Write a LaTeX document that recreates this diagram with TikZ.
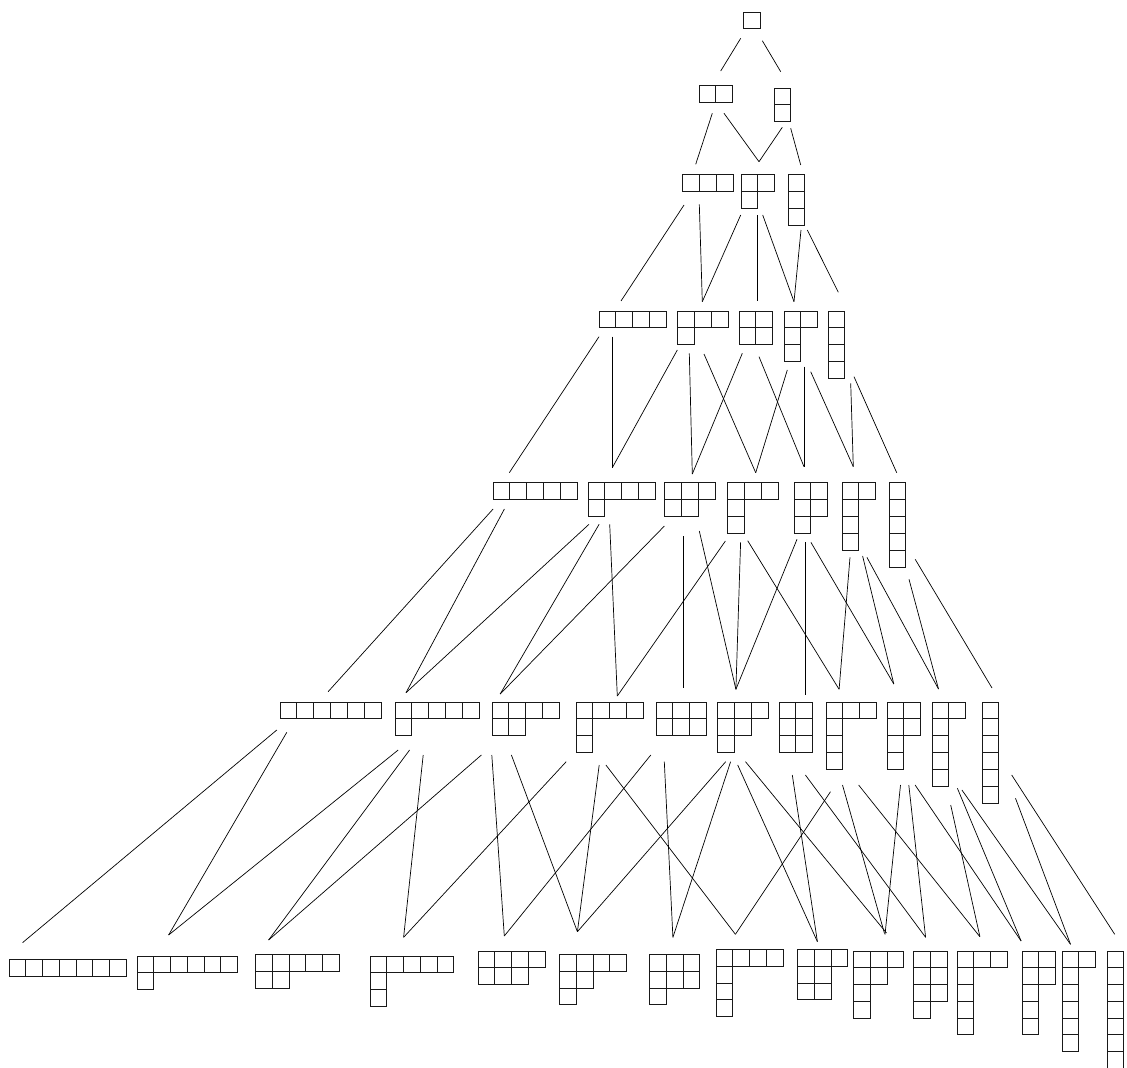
\documentclass[tikz,border=0pt]{standalone}
\begin{document}
\begin{tikzpicture}[x=1pt,y=-1pt,
  ynode/.style={draw=none,inner sep=0pt,outer sep=0pt},
  ybox/.style={draw=black!90,line width=0.9pt},
  edge/.style={draw=black,line width=0.7pt}]
\def\bs{16.9}
\newcommand\yd[6]{%
  \node[ynode,anchor=north west,minimum width=#4*\bs pt,minimum height=#5*\bs pt] (#1) at (#2,#3) {};
  \foreach \r [count=\i from 0] in {#6} {
    \foreach \j in {1,...,\r} {
      \draw[ybox] ([shift={({(\j-1)*\bs},{\i*\bs})}]#1.north west) rectangle ++(\bs,\bs);
    }
  }
}
\newcommand\conn[6]{\draw[edge] ([shift={(#2,#3)}]#1.north west) -- ([shift={(#5,#6)}]#4.north west);}
\useasboundingbox (0,0) rectangle (1127,1068);
% level 1
\yd{p1}{743.5}{12}{1}{1}{1}
% level 2
\yd{p2}{699}{85.5}{2}{1}{2}
\yd{p11}{774}{88}{1}{2}{1,1}
% level 3
\yd{p3}{682.5}{174.5}{3}{1}{3}
\yd{p21}{741}{174.5}{2}{2}{2,1}
\yd{p111}{788}{174.5}{1}{3}{1,1,1}
% level 4
\yd{p4}{599}{311}{4}{1}{4}
\yd{p31}{677.5}{311}{3}{2}{3,1}
\yd{p22}{739}{311}{2}{2}{2,2}
\yd{p211}{784}{311}{2}{3}{2,1,1}
\yd{p1111}{828}{311}{1}{4}{1,1,1,1}
% level 5
\yd{p5}{493}{482.5}{5}{1}{5}
\yd{p41}{588}{482.5}{4}{2}{4,1}
\yd{p32}{664.5}{482.5}{3}{2}{3,2}
\yd{p311}{727.5}{482.5}{3}{3}{3,1,1}
\yd{p221}{794}{482.5}{2}{3}{2,2,1}
\yd{p2111}{842}{482.5}{2}{4}{2,1,1,1}
\yd{p11111}{889}{482.5}{1}{5}{1,1,1,1,1}
% level 6
\yd{p6}{280}{702}{6}{1}{6}
\yd{p51}{395}{702}{5}{2}{5,1}
\yd{p42}{492}{702}{4}{2}{4,2}
\yd{p411}{576}{702}{4}{3}{4,1,1}
\yd{p33}{656}{702}{3}{2}{3,3}
\yd{p321}{717.5}{702}{3}{3}{3,2,1}
\yd{p222}{779}{702}{2}{3}{2,2,2}
\yd{p3111}{826}{702}{3}{4}{3,1,1,1}
\yd{p2211}{887}{702}{2}{4}{2,2,1,1}
\yd{p21111}{932}{702}{2}{5}{2,1,1,1,1}
\yd{p111111}{982}{702}{1}{6}{1,1,1,1,1,1}
% level 7
\def\bs{16.75}
\yd{p7}{9}{959.5}{7}{1}{7}
\yd{p61}{137}{956}{6}{2}{6,1}
\yd{p52}{255.5}{954.5}{5}{2}{5,2}
\yd{p511}{370}{956}{5}{3}{5,1,1}
\yd{p43}{478}{951}{4}{2}{4,3}
\yd{p421}{559.5}{954.5}{4}{3}{4,2,1}
\yd{p331}{649.5}{954.5}{3}{3}{3,3,1}
\yd{p4111}{716}{949.5}{4}{4}{4,1,1,1}
\yd{p322}{797.5}{949.5}{3}{3}{3,2,2}
\yd{p3211}{853.5}{951}{3}{4}{3,2,1,1}
\yd{p2221}{913.5}{951}{2}{4}{2,2,2,1}
\yd{p31111}{957}{951}{3}{5}{3,1,1,1,1}
\yd{p22111}{1022}{951}{2}{5}{2,2,1,1,1}
\yd{p211111}{1062}{951}{2}{6}{2,1,1,1,1,1}
\yd{p1111111}{1107}{951}{1}{7}{1,1,1,1,1,1,1}
% edges 1-2
\conn{p1}{-2.8}{26.3}{p2}{21.7}{-14.5}
\conn{p1}{18.8}{28.7}{p11}{6.7}{-16.3}
% edges 2-3
\conn{p2}{13.3}{27.8}{p3}{13.2}{-10.2}
\conn{p2}{25}{27.8}{p21}{18}{-12.8}
\conn{p11}{8.3}{39.3}{p21}{18}{-12.8}
\conn{p11}{16.7}{40.3}{p111}{12.7}{-9.5}
% edges 3-4
\conn{p3}{1.5}{30.5}{p4}{22}{-10}
\conn{p3}{16.8}{29.8}{p31}{24.8}{-9.3}
\conn{p21}{-0.3}{40.5}{p31}{24.8}{-9.3}
\conn{p21}{16.3}{40.5}{p22}{18.3}{-10.3}
\conn{p21}{21.7}{40.5}{p211}{10}{-9.3}
\conn{p111}{13}{55.5}{p211}{10}{-9.3}
\conn{p111}{19.3}{55.5}{p1111}{10.3}{-18.7}
% edges 4-5
\conn{p4}{0}{25.7}{p5}{16.3}{-9.8}
\conn{p4}{13.3}{25.7}{p41}{24.3}{-14.8}
\conn{p31}{-0.2}{39}{p41}{24.3}{-14.8}
\conn{p31}{11.8}{42.3}{p32}{27.8}{-8.5}
\conn{p31}{26.5}{43}{p311}{28.2}{-9.8}
\conn{p22}{3.3}{42.3}{p32}{27.8}{-8.5}
\conn{p22}{20}{45.7}{p221}{10}{-15.8}
\conn{p211}{3.3}{59}{p311}{28.2}{-9.8}
\conn{p211}{20}{55.7}{p221}{10}{-15.8}
\conn{p211}{26.7}{60.7}{p2111}{11.3}{-15.8}
\conn{p1111}{22.7}{72.3}{p2111}{11.3}{-15.8}
\conn{p1111}{26}{65.7}{p11111}{7.7}{-9.8}
% edges 5-6
\conn{p5}{0.1}{26.5}{p6}{48.1}{-10.3}
\conn{p5}{11.4}{26.5}{p51}{11}{-9.3}
\conn{p41}{1}{41.8}{p51}{11}{-9.3}
\conn{p41}{11.1}{41.8}{p42}{8.2}{-8}
\conn{p41}{21.7}{41.8}{p411}{41.3}{-6}
\conn{p32}{-0.1}{43.5}{p42}{8.2}{-8}
\conn{p32}{19.3}{53.5}{p33}{27.8}{-13.7}
\conn{p32}{34.8}{48.5}{p321}{18.4}{-12.7}
\conn{p311}{-2.1}{58.5}{p411}{41.3}{-6}
\conn{p311}{13.1}{59.8}{p321}{18.4}{-12.7}
\conn{p311}{20.2}{58.2}{p3111}{13.1}{-12.7}
\conn{p221}{3}{56.8}{p321}{18.4}{-12.7}
\conn{p221}{11.4}{59.8}{p222}{26.4}{-7}
\conn{p221}{16.9}{59.8}{p2211}{6.8}{-18}
\conn{p2111}{8}{74.8}{p3111}{13.1}{-12.7}
\conn{p2111}{20.6}{73.5}{p2211}{6.8}{-18}
\conn{p2111}{24.9}{74.8}{p21111}{6.5}{-13}
\conn{p11111}{20}{96.8}{p21111}{6.5}{-13}
\conn{p11111}{26.2}{76.8}{p111111}{10}{-14}
% edges 6-7
\conn{p6}{-3.2}{28}{p7}{13.5}{-16.8}
\conn{p6}{6.8}{30.3}{p61}{31.6}{-21}
\conn{p51}{3.2}{48}{p61}{31.6}{-21}
\conn{p51}{14.6}{48}{p52}{13.1}{-14.5}
\conn{p51}{28.2}{53}{p511}{33.6}{-18.7}
\conn{p42}{-10.6}{53}{p52}{13.1}{-14.5}
\conn{p42}{-0.2}{53}{p43}{26.3}{-15}
\conn{p42}{19.4}{53}{p421}{17.9}{-22.8}
\conn{p411}{-9.8}{59.7}{p511}{33.6}{-18.7}
\conn{p411}{23.2}{63}{p421}{17.9}{-22.8}
\conn{p411}{29.9}{63}{p4111}{19.4}{-15.2}
\conn{p33}{-5.2}{53}{p43}{26.3}{-15}
\conn{p33}{8.3}{59.7}{p331}{23.4}{-17.2}
\conn{p321}{8.2}{59.7}{p421}{17.9}{-22.8}
\conn{p321}{13.1}{59.7}{p331}{23.4}{-17.2}
\conn{p321}{20.2}{63}{p322}{19.9}{-7.8}
\conn{p321}{28}{59.7}{p3211}{33}{-18}
\conn{p222}{13.3}{73}{p322}{19.9}{-7.8}
\conn{p222}{26.4}{73}{p2221}{12.1}{-13.7}
\conn{p3111}{4.5}{89.7}{p4111}{19.4}{-15.2}
\conn{p3111}{16.5}{83}{p3211}{31}{-17.5}
\conn{p3111}{32.6}{83}{p31111}{22.9}{-14.3}
\conn{p2211}{13.5}{83}{p3211}{31.5}{-16.5}
\conn{p2211}{21.8}{83}{p2221}{12.1}{-13.7}
\conn{p2211}{28.1}{83}{p22111}{-0.9}{-10}
\conn{p21111}{18.7}{103}{p31111}{22.9}{-14.3}
\conn{p21111}{25.4}{86.3}{p22111}{-0.9}{-10}
\conn{p21111}{29.9}{88}{p211111}{8.5}{-6.7}
\conn{p111111}{33.5}{96.3}{p211111}{8.5}{-6.7}
\conn{p111111}{29.7}{73}{p1111111}{7.7}{-16.7}
\end{tikzpicture}
\end{document}
